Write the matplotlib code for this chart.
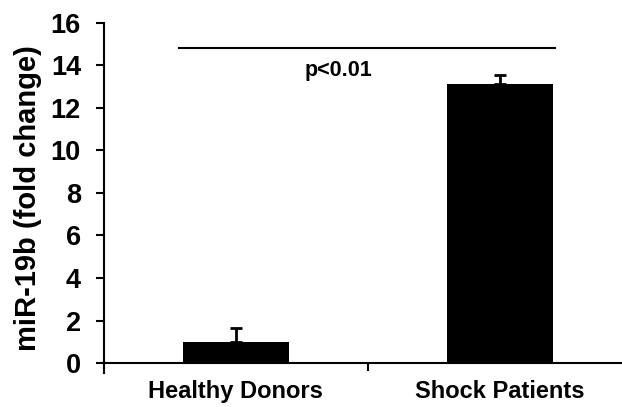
import matplotlib
matplotlib.use("Agg")
import matplotlib.pyplot as plt

categories = ["Healthy Donors", "Shock Patients"]
values = [1.0, 13.1]
errors = [0.65, 0.45]
yticks = [0, 2, 4, 6, 8, 10, 12, 14, 16]
sig_text = "p<0.01"
sig_y = 14.8

plt.rcParams['font.family'] = ['Liberation Sans', 'DejaVu Sans']
plt.rcParams['font.weight'] = 'bold'

fig = plt.figure(figsize=(6.22, 4.07), dpi=100)
ax = fig.add_axes([0.167, 0.0845, 0.833, 0.8595])

x = list(range(len(categories)))
ax.bar(x, values, width=0.4, color='black', zorder=2)
ax.errorbar(x, values, yerr=[[0]*len(errors), errors], fmt='none', ecolor='black',
            elinewidth=2, capsize=4, capthick=2, zorder=3)

ax.set_xlim(-0.5, 1.462)
ax.set_ylim(-0.45, 16)
ax.set_yticks(yticks)
ax.set_yticklabels([str(t) for t in yticks])
ax.set_xticks(x)
ax.set_xticklabels(categories)
ax.set_xticks([0.5], minor=True)
ax.tick_params(axis='x', which='major', length=0, pad=12, labelsize=17)
ax.tick_params(axis='x', which='minor', length=6, width=1.5, direction='out')
ax.tick_params(axis='y', length=6, width=1.5, direction='out', pad=10.5, labelsize=19.5)
for lab in ax.get_xticklabels() + ax.get_yticklabels():
    lab.set_fontweight('bold')

for s in ['top', 'right']:
    ax.spines[s].set_visible(False)
ax.spines['bottom'].set_position(('data', 0))
ax.spines['bottom'].set_linewidth(1.5)
ax.spines['left'].set_linewidth(1.5)

ax.set_ylabel("miR-19b (fold change)", fontsize=21, fontweight='bold', labelpad=6)

ax.plot([-0.216, 1.208], [sig_y, sig_y], color='black', lw=1.5, clip_on=False)
ax.text(0.39, 13.75, sig_text, ha='center', va='center', fontsize=15.5, fontweight='bold')

fig.savefig("out.png", dpi=100)
